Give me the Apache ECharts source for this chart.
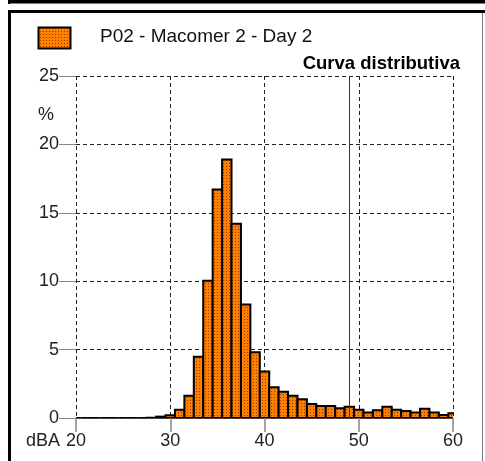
<!DOCTYPE html>
<html>
<head>
<meta charset="utf-8">
<style>
html,body{margin:0;padding:0;background:#fff;}
#chart{width:485px;height:461px;}
</style>
<script src="https://cdn.jsdelivr.net/npm/echarts@6/dist/echarts.min.js"></script>
</head>
<body>
<div id="chart"></div>
<script>
// ---- data ----
const dbaLevels = [20,21,22,23,24,25,26,27,28,29,30,31,32,33,34,35,36,37,38,39,40,41,42,43,44,45,46,47,48,49,50,51,52,53,54,55,56,57,58,59,60];
const percentValues = [0,0,0,0,0,0,0,0,0.02,0.1,0.2,0.6,1.63,4.48,10.04,16.7,18.9,14.2,8.3,4.8,3.4,2.24,1.92,1.62,1.37,1.02,0.88,0.88,0.72,0.83,0.6,0.41,0.56,0.83,0.61,0.51,0.41,0.68,0.41,0.22,0.34];
const xTicks = [20,30,40,50,60];
const yTicks = [0,5,10,15,20,25];
const medianLevel = 49;
const seriesName = 'P02 - Macomer 2 - Day 2';
const titleText = 'Curva distributiva';

// textured orange fill
const pc = document.createElement('canvas');
pc.width = 3; pc.height = 3;
const pctx = pc.getContext('2d');
pctx.fillStyle = '#FF8000';
pctx.fillRect(0,0,3,3);
pctx.fillStyle = '#983C00';
pctx.fillRect(1,1,1,1);
const orangeFill = {image: pc, repeat: 'repeat'};

const data = dbaLevels.map((d,i)=>[d, percentValues[i]]);
const chart = echarts.init(document.getElementById('chart'), null, {renderer:'canvas'});
const font = 'Liberation Sans, Arial, sans-serif';

chart.setOption({
  animation: false,
  textStyle: {fontFamily: font},
  title: {
    text: titleText, right: 20, top: 49,
    textStyle: {fontSize: 18.5, fontWeight: 'bold', color: '#000', fontFamily: font}
  },
  grid: {left: 76, top: 76, right: 32, bottom: 43, containLabel: false},
  xAxis: {
    type: 'value', min: 20, max: 60, interval: 10,
    axisLine: {show: true, lineStyle: {color: '#444', width: 1}},
    axisTick: {show: true, length: 14, lineStyle: {color: '#888', width: 1.5}},
    axisLabel: {fontSize: 18, color: '#222', margin: 14, fontFamily: font},
    splitLine: {show: true, lineStyle: {color: '#222', type: [4,3], width: 1}}
  },
  yAxis: {
    type: 'value', min: 0, max: 25, interval: 5,
    axisLine: {show: false},
    axisTick: {show: true, length: 17, lineStyle: {color: '#888', width: 1}},
    axisLabel: {fontSize: 18, color: '#222', margin: 17, fontFamily: font},
    splitLine: {show: true, lineStyle: {color: '#222', type: [4,3], width: 1}}
  },
  graphic: [
    {type:'line', shape:{x1:8,y1:1.5,x2:485,y2:1.5}, style:{stroke:'#000', lineWidth:4}},
    {type:'line', shape:{x1:9,y1:0,x2:9,y2:4}, style:{stroke:'#000', lineWidth:2}},
    {type:'line', shape:{x1:8,y1:11.5,x2:485,y2:11.5}, style:{stroke:'#000', lineWidth:3}},
    {type:'line', shape:{x1:9.5,y1:10,x2:9.5,y2:461}, style:{stroke:'#000', lineWidth:3}},
    {type:'line', shape:{x1:482.5,y1:13,x2:482.5,y2:461}, style:{stroke:'#777', lineWidth:1}},
    {type:'rect', shape:{x:38.5,y:27.5,width:32,height:21}, style:{fill: orangeFill, stroke:'#000', lineWidth:2}},
    {type:'text', left:100, top:27, style:{text: seriesName, fontSize:19, fill:'#111', fontFamily: font}},
    {type:'text', left:38, top:106, style:{text:'%', fontSize:18, fill:'#222', fontFamily: font}},
    {type:'text', left:26, top:432, style:{text:'dBA', fontSize:18, fill:'#222', fontFamily: font}}
  ],
  series: [{
    type: 'custom',
    name: seriesName,
    clip: true,
    data: data,
    renderItem: function(params, api){
      const x = api.value(0), y = api.value(1);
      const p0 = api.coord([x-0.5, y]);
      const p1 = api.coord([x+0.5, 0]);
      return {type:'rect', shape:{x:p0[0], y:p0[1], width:p1[0]-p0[0], height:p1[1]-p0[1]},
        style:{fill: orangeFill, stroke:'#000', lineWidth:2}};
    },
    markLine: {
      silent: true, symbol: 'none', label: {show:false},
      lineStyle: {color:'#333', type:'solid', width:1},
      data: [{xAxis: medianLevel}]
    }
  }]
});
</script>
</body>
</html>
